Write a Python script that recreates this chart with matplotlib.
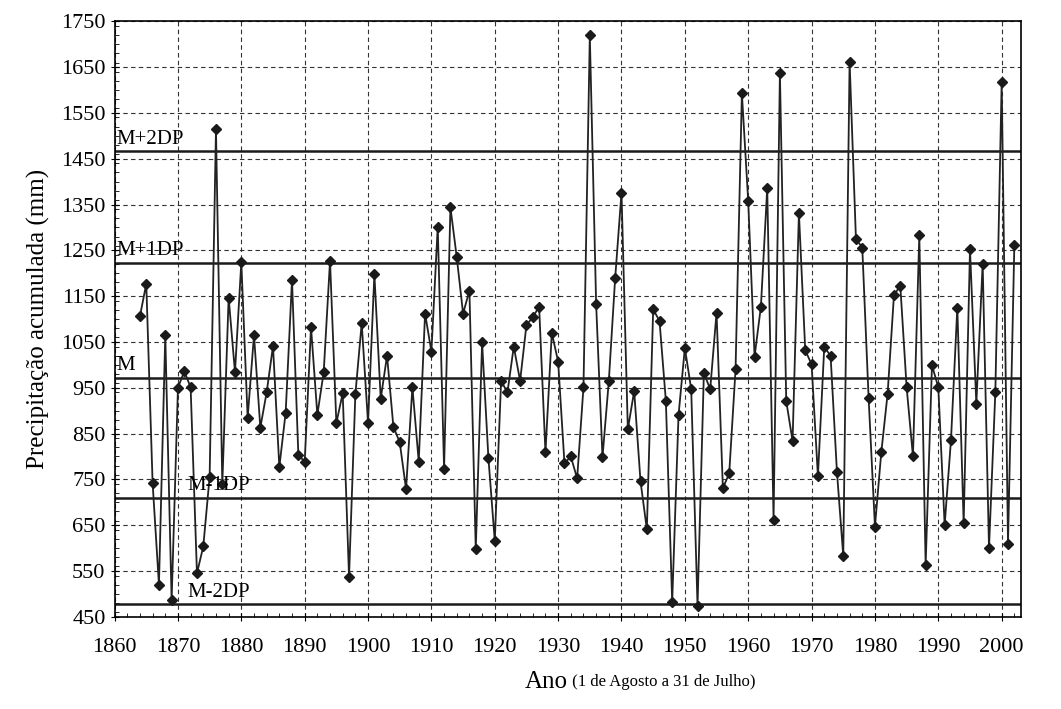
import matplotlib
matplotlib.use("Agg")
import matplotlib.pyplot as plt
from matplotlib.ticker import MultipleLocator

plt.rcParams["font.family"] = ["Liberation Serif", "DejaVu Serif"]

# accumulated precipitation per hydrological year (Aug 1 - Jul 31)
first_year = 1864
precip = [
    1106, 1177, 742, 520, 1065, 486, 950, 986, 951, 545,   # 1864-1873
    604, 756, 1514, 739, 1147, 984, 1224, 884, 1065, 863,  # 1874-1883
    940, 1041, 777, 896, 1185, 804, 788, 1082, 891, 984,   # 1884-1893
    1227, 873, 938, 537, 936, 1091, 873, 1198, 926, 1020,  # 1894-1903
    865, 831, 729, 951, 789, 1112, 1029, 1302, 773, 1344,  # 1904-1913
    1235, 1112, 1162, 597, 1049, 796, 616, 965, 940, 1040, # 1914-1923
    965, 1087, 1104, 1127, 809, 1070, 1007, 785, 800, 752, # 1924-1933
    951, 1719, 1132, 798, 965, 1189, 1376, 859, 943, 746,  # 1934-1943
    641, 1121, 1096, 922, 482, 890, 1037, 947, 474, 982,   # 1944-1953
    947, 1114, 731, 763, 990, 1593, 1357, 1018, 1127, 1386,# 1954-1963
    662, 1637, 921, 834, 1332, 1032, 1001, 757, 1039, 1020,# 1964-1973
    767, 583, 1662, 1275, 1256, 928, 647, 809, 937, 1152,  # 1974-1983
    1173, 951, 800, 1283, 563, 999, 951, 650, 836, 1125,   # 1984-1993
    654, 1252, 915, 1221, 600, 940, 1617, 610, 1262,       # 1994-2002
]
years = list(range(first_year, first_year + len(precip)))

ref_labels = ["M+2DP", "M+1DP", "M", "M-1DP", "M-2DP"]
ref_values = [1466, 1222, 972, 710, 477]
ref_label_x = [1860.3, 1860.3, 1860.3, 1871.5, 1871.5]

fig = plt.figure(figsize=(10.61, 7.09), dpi=100)
ax = fig.add_axes([0.108, 0.13, 0.854, 0.84])

ax.plot(years, precip, color="#222222", linewidth=1.3, marker="D",
        markersize=5.5, markerfacecolor="#1a1a1a", markeredgecolor="#1a1a1a",
        zorder=3)

for lab, val, lx in zip(ref_labels, ref_values, ref_label_x):
    ax.axhline(val, color="#1a1a1a", linewidth=1.8, zorder=2)
    ax.text(lx, val + 6, lab, fontsize=15, ha="left", va="bottom", zorder=4)

ax.set_xlim(1860, 2003)
ax.set_ylim(450, 1750)
ax.xaxis.set_major_locator(MultipleLocator(10))
ax.xaxis.set_minor_locator(MultipleLocator(2))
ax.yaxis.set_minor_locator(MultipleLocator(20))
ax.set_yticks(range(450, 1751, 100))
ax.grid(True, which="major", linestyle=(0, (4, 3)), color="#333333", linewidth=0.8)
ax.tick_params(axis="both", which="major", labelsize=16, length=6, direction="inout")
ax.tick_params(axis="both", which="minor", length=3, direction="in")
ax.tick_params(axis="x", pad=12)
for s in ax.spines.values():
    s.set_linewidth(1.2)

ax.set_ylabel("Precipitação acumulada (mm)", fontsize=18, labelpad=8)
ax.text(0.5, -0.11, "Ano", transform=ax.transAxes, fontsize=18, ha="right", va="center")
ax.text(0.5, -0.11, " (1 de Agosto a 31 de Julho)", transform=ax.transAxes,
        fontsize=12, ha="left", va="center")

fig.savefig("out.png", dpi=100)
